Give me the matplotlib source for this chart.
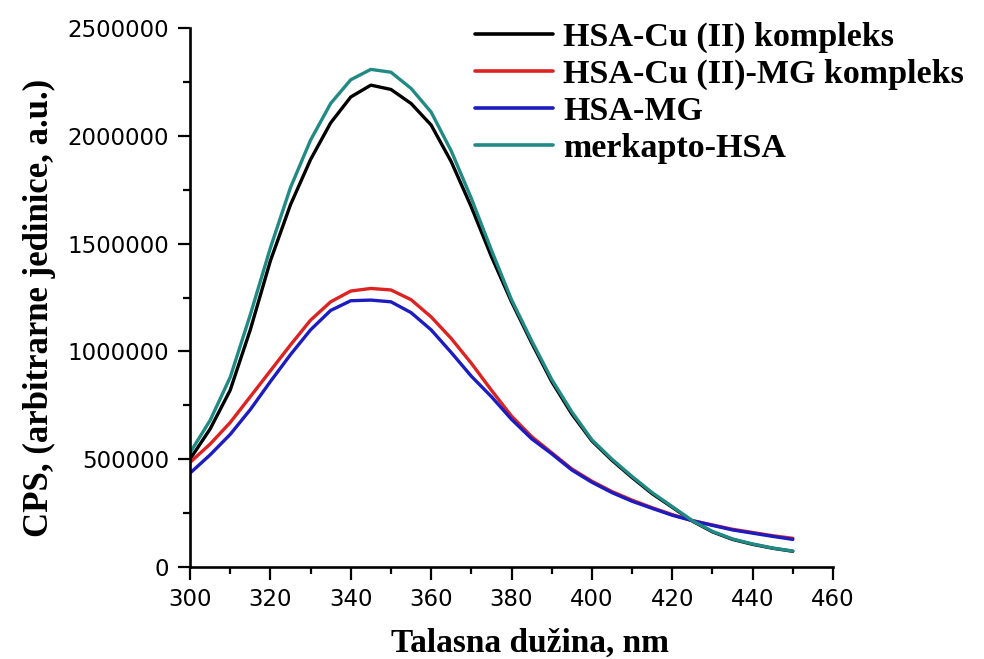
import matplotlib
matplotlib.use("Agg")
import matplotlib.pyplot as plt
from matplotlib.ticker import MultipleLocator, FixedLocator

wavelength = [300, 305, 310, 315, 320, 325, 330, 335, 340, 345, 350, 355, 360, 365, 370,
              375, 380, 385, 390, 395, 400, 405, 410, 415, 420, 425, 430, 435, 440, 445, 450]

hsa_cu = [0.50, 0.64, 0.82, 1.10, 1.42, 1.68, 1.89, 2.06, 2.18, 2.235, 2.215, 2.15, 2.05, 1.88, 1.67,
          1.44, 1.23, 1.04, 0.86, 0.71, 0.585, 0.495, 0.415, 0.34, 0.277, 0.213, 0.163, 0.128, 0.105, 0.087, 0.073]
hsa_cu_mg = [0.485, 0.57, 0.67, 0.79, 0.91, 1.03, 1.145, 1.23, 1.28, 1.292, 1.285, 1.24, 1.16, 1.06, 0.945,
             0.82, 0.70, 0.605, 0.53, 0.455, 0.398, 0.35, 0.31, 0.275, 0.243, 0.215, 0.195, 0.175, 0.16, 0.145, 0.133]
hsa_mg = [0.435, 0.52, 0.615, 0.73, 0.86, 0.985, 1.10, 1.19, 1.235, 1.238, 1.23, 1.18, 1.10, 0.995, 0.885,
          0.79, 0.685, 0.595, 0.525, 0.45, 0.393, 0.345, 0.305, 0.272, 0.24, 0.215, 0.193, 0.172, 0.157, 0.142, 0.128]
merkapto = [0.53, 0.68, 0.88, 1.17, 1.48, 1.76, 1.98, 2.15, 2.26, 2.308, 2.295, 2.22, 2.11, 1.93, 1.71,
            1.47, 1.24, 1.05, 0.87, 0.72, 0.59, 0.50, 0.42, 0.345, 0.28, 0.215, 0.165, 0.13, 0.107, 0.088, 0.074]

labels = ["HSA-Cu (II) kompleks", "HSA-Cu (II)-MG kompleks", "HSA-MG", "merkapto-HSA"]
series = [hsa_cu, hsa_cu_mg, hsa_mg, merkapto]
colors = ["#000000", "#dd2222", "#1c1cc0", "#218a84"]

x_ticks = [300, 320, 340, 360, 380, 400, 420, 440, 460]
y_ticks = [0, 500000, 1000000, 1500000, 2000000, 2500000]

W, H = 984, 659
fig = plt.figure(figsize=(W / 100, H / 100), dpi=100)
ax = fig.add_axes([190 / W, 1 - 567 / H, (833 - 190) / W, (567 - 28) / H])

lines = []
for vals, lab, c in zip(series, labels, colors):
    ln, = ax.plot(wavelength, [v * 1e6 for v in vals], color=c, lw=2.4, label=lab,
                  solid_joinstyle="round", solid_capstyle="round")
    lines.append(ln)

ax.set_xlim(300, 460)
ax.set_ylim(0, 2500000)
ax.xaxis.set_major_locator(FixedLocator(x_ticks))
ax.yaxis.set_major_locator(FixedLocator(y_ticks))
ax.xaxis.set_minor_locator(MultipleLocator(10))
ax.yaxis.set_minor_locator(MultipleLocator(250000))
ax.set_xticklabels([str(t) for t in x_ticks])
ax.set_yticklabels([str(t) for t in y_ticks])

for s in ["top", "right"]:
    ax.spines[s].set_visible(False)
for s in ["left", "bottom"]:
    ax.spines[s].set_linewidth(1.9)

ax.tick_params(which="major", direction="out", length=9, width=1.6, labelsize=16.5, pad=6)
ax.tick_params(which="minor", direction="out", length=5, width=1.6)
for lab in ax.get_xticklabels() + ax.get_yticklabels():
    lab.set_fontfamily("DejaVu Sans")

fig.text(530 / W, 1 - 652 / H, "Talasna dužina, nm", ha="center", va="baseline",
         fontfamily="Liberation Serif", fontweight="bold", fontsize=24)
fig.text(39 / W, 1 - 308 / H, "CPS, (arbitrarne jedinice, a.u.)", ha="center", va="center",
         rotation=90, fontfamily="Liberation Serif", fontweight="bold", fontsize=25)

leg = fig.legend(handles=lines, labels=labels, loc="upper left",
                 bbox_to_anchor=(475 / W, 1 - 22 / H), frameon=False,
                 prop={"family": "Liberation Serif", "weight": "bold", "size": 24.5},
                 handlelength=2.3, handletextpad=0.3, labelspacing=0.17,
                 borderpad=0, borderaxespad=0)
for h in leg.legend_handles:
    h.set_linewidth(2.6)

fig.savefig("out.png", dpi=100)
